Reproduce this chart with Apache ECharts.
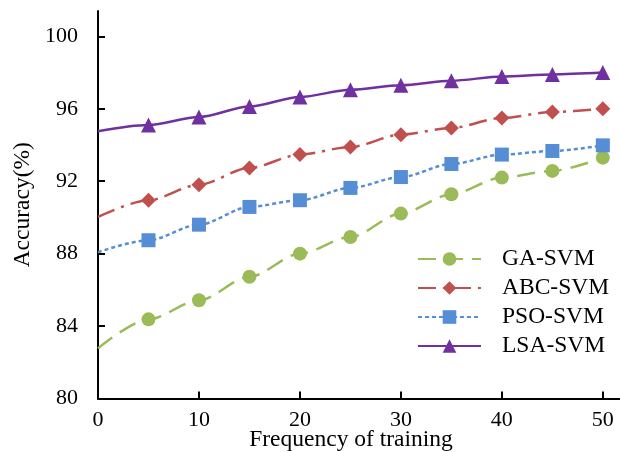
<!DOCTYPE html>
<html><head><meta charset="utf-8">
<script src="https://cdn.jsdelivr.net/npm/echarts@6/dist/echarts.min.js"></script>
<style>html,body{margin:0;padding:0;background:#fff}#c{width:620px;height:452px}</style>
</head><body><div id="c"></div>
<script>
var xValues = [0, 5, 10, 15, 20, 25, 30, 35, 40, 45, 50];
var gaSvm  = [82.77, 84.37, 85.43, 86.72, 88.0, 88.92, 90.21, 91.28, 92.2, 92.57, 93.3];
var abcSvm = [90.03, 90.95, 91.81, 92.73, 93.47, 93.89, 94.57, 94.94, 95.49, 95.82, 96.0];
var psoSvm = [88.08, 88.74, 89.6, 90.58, 90.95, 91.63, 92.23, 92.95, 93.47, 93.67, 93.98];
var lsaSvm = [94.76, 95.1, 95.55, 96.13, 96.65, 97.05, 97.3, 97.55, 97.78, 97.9, 98.0];
var seriesNames = ['GA-SVM', 'ABC-SVM', 'PSO-SVM', 'LSA-SVM'];
var xTicks = [0, 10, 20, 30, 40, 50];
var yTicks = [80, 84, 88, 92, 96, 100];

function pts(arr) {
  return xValues.map(function (x, i) {
    var d = { value: [x, arr[i]] };
    if (x === 0) d.symbol = 'none';
    return d;
  });
}
var font = 'Liberation Serif, Times New Roman, serif';
var chart = echarts.init(document.getElementById('c'), null, { renderer: 'canvas' });
var defs = [
  { data: gaSvm,  color: '#9BBB59', symbol: 'circle',   size: 14, type: [18, 9] },
  { data: abcSvm, color: '#C0504D', symbol: 'diamond',  size: 15, type: [18, 7, 3, 7] },
  { data: psoSvm, color: '#558ED5', symbol: 'rect',     size: 14, type: [4, 3] },
  { data: lsaSvm, color: '#7030A0', symbol: 'triangle', size: 15, type: 'solid' }
];
chart.setOption({
  animation: false,
  grid: { left: 98, right: 0, top: 11, bottom: 53.5, outerBoundsMode: 'none', containLabel: false },
  legend: {
    orient: 'vertical', left: 417, top: 247, padding: 0, itemWidth: 63, itemHeight: 17, itemGap: 5,
    textStyle: { fontFamily: font, fontSize: 23.5, lineHeight: 24, color: '#000', padding: [0, 0, 0, 16] },
    data: seriesNames
  },
  xAxis: {
    type: 'value', min: 0, max: 51.7,
    name: 'Frequency of training', nameLocation: 'middle', nameGap: 29, nameMoveOverlap: false,
    nameTextStyle: { fontFamily: font, fontSize: 23.5, color: '#000', padding: [0, 16, 0, 0] },
    axisLine: { lineStyle: { color: '#000', width: 2 } },
    axisTick: { inside: true, length: 7, customValues: xTicks, lineStyle: { color: '#000', width: 2 } },
    axisLabel: { customValues: xTicks, margin: 11, fontFamily: font, fontSize: 22, color: '#000' },
    splitLine: { show: false }
  },
  yAxis: {
    type: 'value', min: 80, max: 101.4,
    name: 'Accuracy(%)', nameLocation: 'middle', nameGap: 63, nameMoveOverlap: false,
    nameTextStyle: { fontFamily: font, fontSize: 23.5, color: '#000' },
    axisLine: { show: true, lineStyle: { color: '#000', width: 2 } },
    axisTick: { show: true, inside: true, length: 7, customValues: yTicks, lineStyle: { color: '#000', width: 2 } },
    axisLabel: { customValues: yTicks, margin: 20, fontFamily: font, fontSize: 22, color: '#000' },
    splitLine: { show: false }
  },
  series: defs.map(function (d, i) {
    return {
      name: seriesNames[i], type: 'line', smooth: 0.3, smoothMonotone: 'x',
      data: pts(d.data), symbol: d.symbol, symbolSize: d.size,
      itemStyle: { color: d.color },
      lineStyle: { color: d.color, width: 2.5, type: d.type }
    };
  })
});
</script></body></html>
